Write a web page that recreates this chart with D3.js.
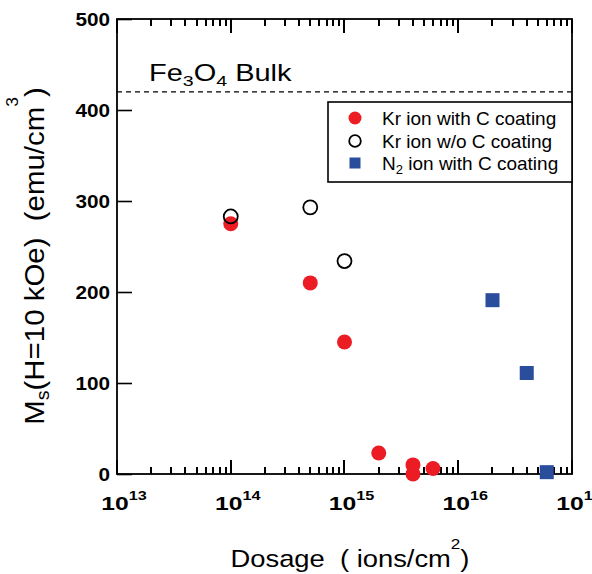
<!DOCTYPE html>
<html>
<head>
<meta charset="utf-8">
<script src="https://cdn.jsdelivr.net/npm/d3@7/dist/d3.min.js"></script>
<style>
  html, body { margin: 0; padding: 0; background: #fff; }
  svg { display: block; font-family: "Liberation Sans", Arial, Helvetica, sans-serif; }
</style>
</head>
<body>
<svg id="chart" width="592" height="574"></svg>
<script>
// Saturation magnetisation after ion irradiation, by dose
const krCoatedDose = [1e14, 5e14, 1e15, 2e15, 4e15, 4e15, 6e15];
const krCoatedMs   = [275, 210, 145, 23, 10, 0, 6];

const krBareDose = [1e14, 5e14, 1e15];
const krBareMs   = [283, 293, 234];

const n2CoatedDose = [2e16, 4e16, 6e16];
const n2CoatedMs   = [191, 111, 2];

const bulkMs = 420;

const yTickValues = [0, 100, 200, 300, 400, 500];
const xDecades = [13, 14, 15, 16, 17];
const xMinorSteps = [2, 3, 4, 5, 6, 7, 8, 9];

const legendLabels = [
  { main: "Kr ion with C coating" },
  { main: "Kr ion w/o C coating" },
  { pre: "N", sub: "2", main: " ion with C coating" }
];

const RED = "#ec1c24", BLUE = "#2a4d9c";

const svg = d3.select("#chart");
const plotLeft = 117, plotRight = 572, plotTop = 19, plotBottom = 474;

const x = d3.scaleLog().domain([1e13, 1e17]).range([plotLeft, plotRight]);
const y = d3.scaleLinear().domain([0, 500]).range([plotBottom, plotTop]);

// major ticks at each decade, minor ticks at 2..9 times the decade
const xTicks = [];
xDecades.forEach(e => {
  xTicks.push({ v: Math.pow(10, e), major: true });
  if (e < 17) xMinorSteps.forEach(m => xTicks.push({ v: m * Math.pow(10, e), major: false }));
});
const tickLen = d => d.major ? 14 : 7;
const tickX = d => Math.round(x(d.v));

// plot frame
svg.append("rect").attr("x", plotLeft).attr("y", plotTop)
  .attr("width", plotRight - plotLeft).attr("height", plotBottom - plotTop)
  .attr("fill", "none").attr("stroke", "#000").attr("stroke-width", 1.8);

// inward x ticks on bottom and top edges
const xTickG = svg.append("g");
xTickG.selectAll("path").data(xTicks).join("path")
  .attr("fill", "none").attr("stroke", "#000").attr("stroke-width", 2)
  .attr("d", d => `M${tickX(d)},${plotBottom}V${plotBottom - tickLen(d)}` +
                  `M${tickX(d)},${plotTop}V${plotTop + tickLen(d)}`);

// decade labels written as powers of ten
svg.append("g").selectAll("g").data(xDecades).join("g")
  .attr("transform", e => `translate(${x(Math.pow(10, e)) - 2},${plotBottom + 36}) scale(1.3,1)`)
  .each(function(e) {
    const t = d3.select(this).append("text").attr("text-anchor", "start").attr("fill", "#000")
      .attr("font-weight", "bold").attr("font-size", 19);
    t.append("tspan").text("10");
    t.append("tspan").attr("font-size", 12.5).attr("dy", -10).text(e);
    // centre the "10" on the tick
    const w = t.select("tspan").node().getComputedTextLength();
    t.attr("x", -w / 2);
  });

// left axis
const gy = svg.append("g").attr("transform", `translate(${plotLeft},0)`)
  .call(d3.axisLeft(y).tickValues(yTickValues).tickSizeOuter(0).tickSizeInner(-15).tickPadding(0));
gy.select(".domain").remove();
gy.selectAll(".tick line").attr("stroke", "#000").attr("stroke-width", 1.6);
gy.selectAll(".tick text")
  .attr("x", 0).attr("dy", "0.36em")
  .attr("transform", "translate(-7,0) scale(1.12,1)")
  .attr("font-family", "Liberation Sans, Arial, sans-serif")
  .attr("font-size", 18.5).attr("font-weight", "bold").attr("fill", "#000");

// bulk reference line
svg.append("line").attr("x1", plotLeft).attr("x2", plotRight)
  .attr("y1", y(bulkMs)).attr("y2", y(bulkMs))
  .attr("stroke", "#000").attr("stroke-width", 1.2).attr("stroke-dasharray", "5,4");

const bulk = svg.append("g").attr("transform", `translate(149,${y(bulkMs) - 11}) scale(1.26,1)`)
  .append("text").attr("font-size", 23).attr("fill", "#000");
bulk.append("tspan").text("Fe");
bulk.append("tspan").attr("font-size", 15.5).attr("dy", 5).text("3");
bulk.append("tspan").attr("dy", -5).text("O");
bulk.append("tspan").attr("font-size", 15.5).attr("dy", 5).text("4");
bulk.append("tspan").attr("dy", -5).text(" Bulk");

// data marks
svg.append("g").selectAll("circle").data(krCoatedDose.map((d, i) => [d, krCoatedMs[i]]))
  .join("circle").attr("cx", d => x(d[0])).attr("cy", d => y(d[1]))
  .attr("r", 7.5).attr("fill", RED);

svg.append("g").selectAll("circle").data(krBareDose.map((d, i) => [d, krBareMs[i]]))
  .join("circle").attr("cx", d => x(d[0])).attr("cy", d => y(d[1]))
  .attr("r", 7).attr("fill", "none").attr("stroke", "#000").attr("stroke-width", 1.8);

const sq = 14;
svg.append("g").selectAll("rect").data(n2CoatedDose.map((d, i) => [d, n2CoatedMs[i]]))
  .join("rect").attr("x", d => x(d[0]) - sq / 2).attr("y", d => y(d[1]) - sq / 2)
  .attr("width", sq).attr("height", sq).attr("fill", BLUE);

// legend
const lg = svg.append("g");
lg.append("rect").attr("x", 328).attr("y", 102).attr("width", plotRight - 328).attr("height", 80)
  .attr("fill", "#fff").attr("stroke", "#000").attr("stroke-width", 1.6);
const rowY = [118, 141, 163];
lg.append("circle").attr("cx", 355).attr("cy", rowY[0]).attr("r", 6.5).attr("fill", RED);
lg.append("circle").attr("cx", 355).attr("cy", rowY[1]).attr("r", 5.8)
  .attr("fill", "none").attr("stroke", "#000").attr("stroke-width", 1.8);
lg.append("rect").attr("x", 355 - 5.5).attr("y", rowY[2] - 5.5).attr("width", 11).attr("height", 11)
  .attr("fill", BLUE);
legendLabels.forEach((l, i) => {
  const t = lg.append("text").attr("x", 382).attr("y", rowY[i] + 7)
    .attr("font-size", 19).attr("fill", "#000");
  if (l.pre) {
    t.append("tspan").text(l.pre);
    t.append("tspan").attr("font-size", 13).attr("dy", 4).text(l.sub);
    t.append("tspan").attr("dy", -4).text(l.main);
  } else {
    t.text(l.main);
  }
});

// x axis title
const xt = svg.append("g").attr("transform", "translate(350,567) scale(1.14,1)")
  .append("text").attr("text-anchor", "middle").attr("font-size", 24).attr("fill", "#000")
  .attr("xml:space", "preserve");
xt.append("tspan").text("Dosage  ( ions/cm");
xt.append("tspan").attr("font-size", 15).attr("dy", -18).text("2");
xt.append("tspan").attr("dy", 18).text(")");

// y axis title
const yt = svg.append("g").attr("transform", "translate(44,256) rotate(-90) scale(1.09,1)")
  .append("text").attr("text-anchor", "middle").attr("font-size", 27).attr("fill", "#000")
  .attr("xml:space", "preserve");
yt.append("tspan").text("M");
yt.append("tspan").attr("font-size", 18).attr("dy", 5).text("s");
yt.append("tspan").attr("dy", -5).text("(H=10 kOe)  (emu/cm");
yt.append("tspan").attr("font-size", 16).attr("dy", -26).text("3");
yt.append("tspan").attr("dy", 26).text(")");
</script>
</body>
</html>
